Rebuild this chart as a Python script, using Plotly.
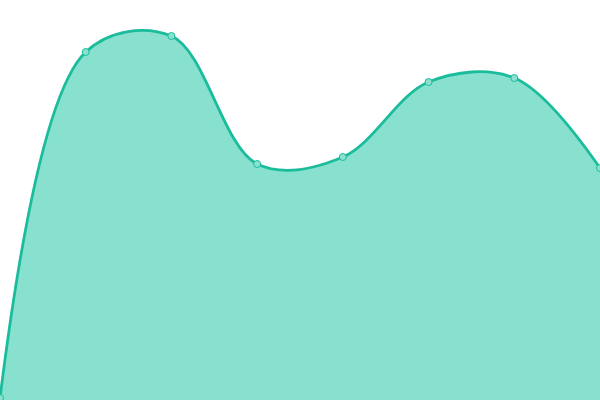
import plotly.graph_objects as go

# datos (altura sobre la base, en px de 400)
labels = ["A", "B", "C", "D", "E", "F", "G", "H"]
values = [2, 348, 364, 236, 243, 318, 322, 232]

LINE = "#1abc9c"
FILL = "#88e0cf"

fig = go.Figure()

fig.add_trace(go.Scatter(
    x=labels, y=values,
    mode="lines+markers",
    line=dict(color=LINE, width=2.8, shape="spline", smoothing=1.0),
    fill="tozeroy",
    fillcolor=FILL,
    marker=dict(size=7, color="#8ce0cf", line=dict(color=LINE, width=1)),
    hoverinfo="skip",
))

fig.update_layout(
    width=600,
    height=400,
    margin=dict(l=0, r=0, t=0, b=0),
    plot_bgcolor="white",
    paper_bgcolor="white",
    showlegend=False,
    xaxis=dict(visible=False, range=[0, len(labels) - 1]),
    yaxis=dict(visible=False, range=[0, 400]),
)

# sin margen del body para que el gráfico ocupe toda la ventana
fig.write_html(
    "out.html",
    config={"displayModeBar": False},
    post_script="document.body.style.margin='0';",
)
